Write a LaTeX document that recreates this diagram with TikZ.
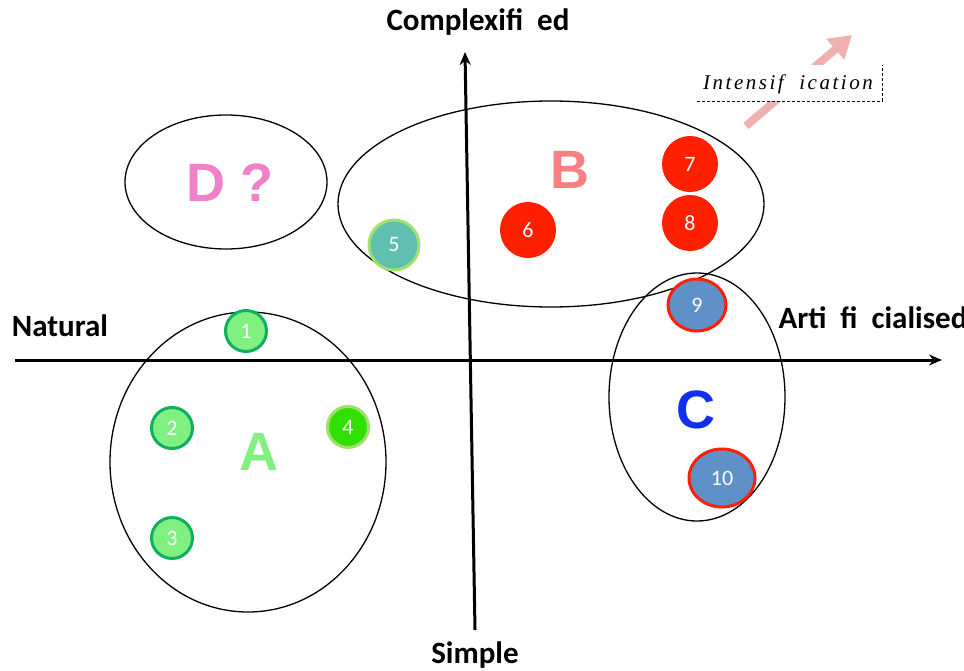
\documentclass[tikz,border=0pt]{standalone}
\usepackage{fontspec}
\setmainfont{Carlito}
\newfontfamily\serifit{Liberation Serif}
\newfontfamily\arialf{Liberation Sans}
\usetikzlibrary{arrows.meta,shapes.geometric}
\definecolor{lgreen}{HTML}{80F080}
\definecolor{dgreen}{HTML}{10B060}
\definecolor{brgreen}{HTML}{30E000}
\definecolor{olgreen}{HTML}{A0E070}
\definecolor{teal5}{HTML}{60C0B0}
\definecolor{redd}{HTML}{FF2000}
\definecolor{blued}{HTML}{6090C8}
\definecolor{pinkD}{HTML}{F080C8}
\definecolor{salmonB}{HTML}{F88080}
\definecolor{blueC}{HTML}{1030F0}
\definecolor{arrowpink}{HTML}{F0B0B0}
\tikzset{
  axislbl/.style={font=\fontsize{31}{34}\selectfont\bfseries, text=black},
  biglbl/.style={font=\arialf\fontsize{54}{58}\selectfont\bfseries},
  numc/.style={circle, line width=3, inner sep=0, text=white, font=\fontsize{22}{24}\selectfont},
  nume/.style={ellipse, line width=3, inner sep=0, text=white, font=\fontsize{22}{24}\selectfont},
}
\begin{document}
\begin{tikzpicture}[x=1pt,y=-1pt]
\useasboundingbox (0,0) rectangle (964,671);
% ellipses
\draw[line width=1.3] (226,182) ellipse [x radius=101, y radius=67];
\draw[line width=1.3] (551,204) ellipse [x radius=213, y radius=103];
\draw[line width=1.3] (248,462) ellipse [x radius=138, y radius=150];
\draw[line width=1.3] (697,397) ellipse [x radius=88, y radius=124];
% axes
\coordinate (xl) at (15,360);
\coordinate (xr) at (942,360);
\coordinate (yb) at (475,630);
\coordinate (yt) at (465,52);
\draw[line width=3, -{Stealth[length=13, width=11]}] (xl) -- (xr);
\draw[line width=3, -{Stealth[length=13, width=11]}] (yb) -- (yt);
% axis labels
\node[axislbl] (cx) at (478,22) {Complexifi\ \ ed};
\node[axislbl] (nat) at (60,326) {Natural};
\node[axislbl, anchor=west] (art) at (775,318) {Arti\ \ fi\ \ cialised};
\node[axislbl] (sim) at (475,655) {Simple};
% group letters
\node[biglbl, text=pinkD] (D) at (230,183) {D ?};
\node[biglbl, text=salmonB] (B) at (570,170) {B};
\node[biglbl, text=lgreen] (A) at (259,452) {A};
\node[biglbl, text=blueC] (C) at (696,410) {C};
% circles
\node[numc, fill=lgreen, draw=dgreen, minimum size=41] (n1) at (246,331) {1};
\node[numc, fill=lgreen, draw=dgreen, minimum size=41] (n2) at (172,428) {2};
\node[numc, fill=lgreen, draw=dgreen, minimum size=41] (n3) at (172,538) {3};
\node[numc, fill=brgreen, draw=olgreen, minimum size=41] (n4) at (348,427) {4};
\node[numc, fill=teal5, draw=olgreen, minimum size=50] (n5) at (394,245) {5};
\node[numc, fill=redd, draw=redd, minimum size=53] (n6) at (528,230) {6};
\node[numc, fill=redd, draw=redd, minimum size=53] (n7) at (690,164) {7};
\node[numc, fill=redd, draw=redd, minimum size=53] (n8) at (690,223) {8};
\node[nume, fill=blued, draw=redd, minimum width=58, minimum height=52] (n9) at (697,305) {9};
\node[nume, fill=blued, draw=redd, minimum width=66, minimum height=58] (n10) at (722,478) {10};
% intensification
\coordinate (ia) at (746,126);
\coordinate (ib) at (852,35);
\draw[line width=8, arrowpink, -{Triangle[length=22, width=26]}] (ia) -- (ib);
\fill[white] (697,65) rectangle (882,101);
\node[font=\serifit\itshape\fontsize{21}{24}\selectfont, inner sep=0] (int) at (788,84) {\addfontfeature{LetterSpace=12}Intensif\ \ ication};
\draw[densely dashed, line width=0.8] (697,101) -- (882,101) -- (882,65);
\end{tikzpicture}
\end{document}
